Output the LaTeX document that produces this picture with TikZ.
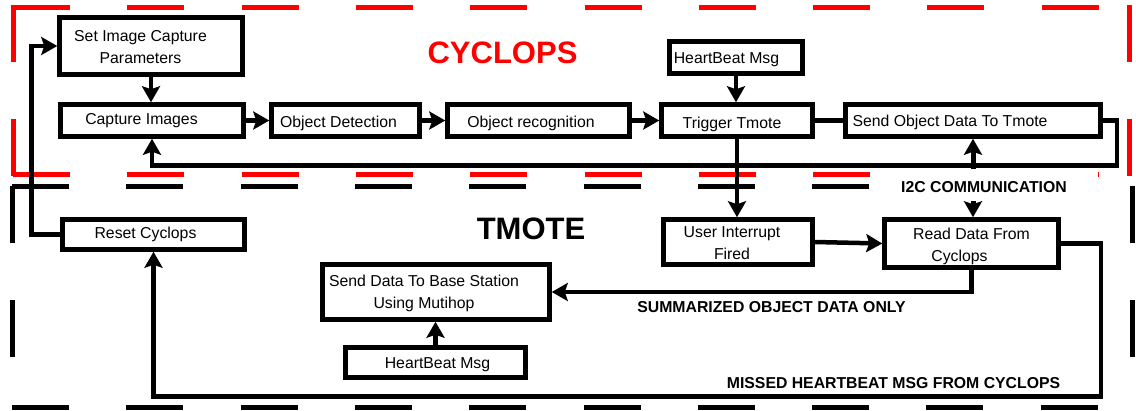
\documentclass[tikz,border=0pt]{standalone}
\usepackage{fontspec}
\setmainfont{Liberation Sans}
\usetikzlibrary{arrows.meta}
\begin{document}
\begin{tikzpicture}[x=1pt,y=-1pt,
  box/.style={draw, line width=4.5pt, inner sep=0pt, fill=white},
  txt/.style={font=\fontsize{15.8}{22}\selectfont, align=center, inner sep=0pt},
  one/.style={txt, text height=11.6pt, text depth=3.3pt},
  note/.style={font=\fontsize{15.8}{18}\selectfont\bfseries, inner sep=0pt,
               text height=11.6pt, text depth=3.3pt},
  title/.style={font=\fontsize{31}{34}\selectfont\bfseries, inner sep=0pt},
  wire/.style={line width=4.5pt},
  tip/.tip={Stealth[length=16pt,width=18pt,inset=3pt]},
  arr/.style={wire, -tip},
  frame/.style={line width=5pt, dash pattern=on 57pt off 57.3pt},
]
\useasboundingbox (0,0) rectangle (1136,410);

% CYCLOPS region (red dashed frame)
\draw[frame, red] (13,7.5) -- (1132,7.5);
\draw[frame, red] (13,174.5) -- (1132,174.5);
\draw[frame, red] (13.5,5) -- (13.5,177);
\draw[frame, red] (1129.5,5) -- (1129.5,177);

% TMOTE region (black dashed frame)
\draw[frame] (12,186) -- (1135,186);
\draw[frame] (12,407.5) -- (1135,407.5);
\draw[frame] (12,185.5) -- (12,410);
\draw[frame] (1132.5,185.5) -- (1132.5,410);

% region titles
\node[title, red] (cyclops) at (502.5,52.5) {CYCLOPS};
\node[title] (tmote) at (531,229) {TMOTE};

% CYCLOPS blocks
\node[box, minimum width=183pt, minimum height=57pt,
  label={[txt, xshift=-10.5pt, yshift=-0.8pt]center:{Set Image Capture\\Parameters}}]
  (set) at (151,46) {};
\node[box, minimum width=183pt, minimum height=32pt,
  label={[one, xshift=-10.5pt, yshift=-0.3pt]center:Capture Images}]
  (cap) at (152,120.5) {};
\node[box, minimum width=148pt, minimum height=32pt,
  label={[one, xshift=-7pt, yshift=-2.5pt]center:Object Detection}]
  (det) at (345.5,120.5) {};
\node[box, minimum width=182pt, minimum height=32pt,
  label={[one, xshift=-7.5pt, yshift=-2.5pt]center:Object recognition}]
  (rec) at (538.5,120.5) {};
\node[box, minimum width=151pt, minimum height=32pt,
  label={[one, xshift=-5pt, yshift=-3.5pt]center:Trigger Tmote}]
  (trig) at (737,120.5) {};
\node[box, minimum width=133pt, minimum height=32pt,
  label={[one, xshift=-9.5pt, yshift=-2pt]center:HeartBeat Msg}]
  (hb1) at (736,57.5) {};
\node[box, minimum width=255pt, minimum height=32pt,
  label={[one, xshift=-23pt, yshift=-2.3pt]center:Send Object Data To Tmote}]
  (sod) at (973,120.5) {};

% TMOTE blocks
\node[box, minimum width=182pt, minimum height=30pt,
  label={[one, xshift=-8pt, yshift=0pt]center:Reset Cyclops}]
  (reset) at (153.5,234.5) {};
\node[box, minimum width=149pt, minimum height=45pt,
  label={[txt, xshift=-6pt, yshift=-1pt]center:{User Interrupt\\Fired}}]
  (user) at (738,242) {};
\node[box, minimum width=174pt, minimum height=48pt,
  label={[txt, xshift=0pt, yshift=-2.8pt]center:{Read Data From\\Cyclops\hspace*{24pt}}}]
  (read) at (971.5,243.5) {};
\node[box, minimum width=227pt, minimum height=55pt,
  label={[txt, xshift=-12pt, yshift=-1.5pt]center:{Send Data To Base Station\\Using Mutihop}}]
  (sdb) at (436,292) {};
\node[box, minimum width=180pt, minimum height=30pt,
  label={[one, xshift=2pt, yshift=-1.5pt]center:HeartBeat Msg}]
  (hb2) at (435.5,362.5) {};

% bend points of the return loops
\coordinate (backR) at (1117,165.5);
\coordinate (backB) at (1101,396.5);
\coordinate (backL) at (31.5,46);

% CYCLOPS flow
\draw[arr] (set.south) -- (set.south |- cap.north);
\draw[arr] (cap.east) -- (det.west);
\draw[arr] (det.east) -- (rec.west);
\draw[arr] (rec.east) -- (trig.west);
\draw[arr] (hb1.south) -- (hb1.south |- trig.north);
\draw[wire] (trig.east) -- (sod.west);
\draw[arr] (sod.east) -| (backR) -| (cap.south);

% Cyclops -> Tmote
\draw[arr] (trig.south) -- (trig.south |- user.north);
\draw[line width=5pt, tip-tip] (sod.south) -- (sod.south |- read.north);

% TMOTE flow
\draw[arr] (user.east) -- (read.west);
\draw[arr] (read.south) |- (sdb.east);
\draw[arr] (hb2.north) -- (hb2.north |- sdb.south);
\draw[arr] (read.east) -| (backB) -| (reset.south);
\draw[arr] (reset.west) -| (backL) -- (set.west);

% connector labels
\fill[white] (880,169) rectangle (1098,201);
\node[note] (i2c) at (984,188.8) {I2C COMMUNICATION};
\node[note] (summ) at (771.5,308.2) {SUMMARIZED OBJECT DATA ONLY};
\node[note] (missed) at (893.5,384.8) {MISSED HEARTBEAT MSG FROM CYCLOPS};
\end{tikzpicture}
\end{document}
